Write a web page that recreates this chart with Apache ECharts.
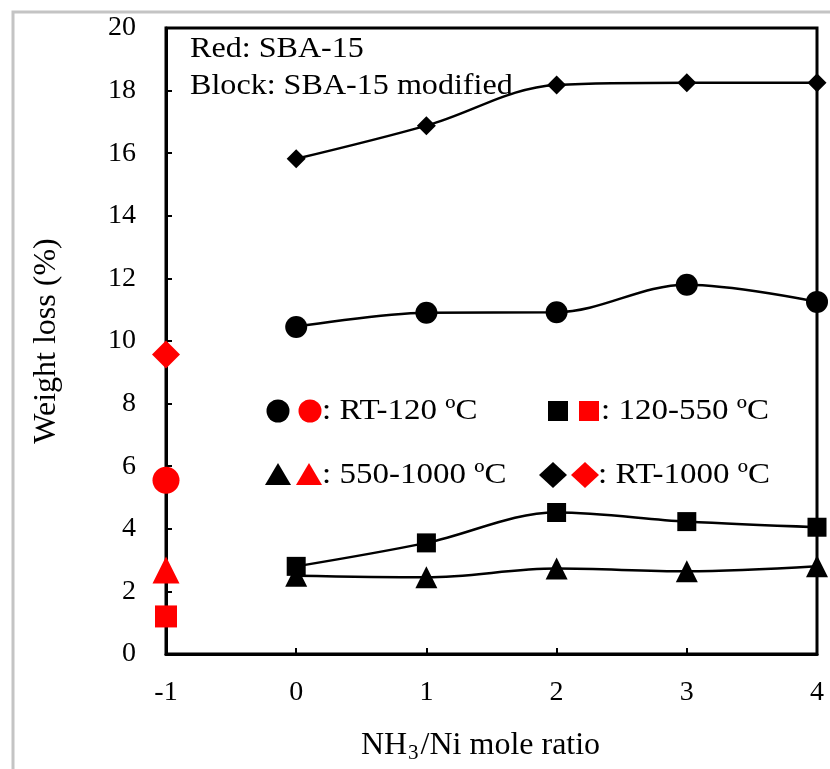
<!DOCTYPE html>
<html><head><meta charset="utf-8">
<script src="https://cdn.jsdelivr.net/npm/echarts@6/dist/echarts.min.js"></script>
<style>html,body{margin:0;padding:0;background:#fff}#c{width:830px;height:769px}</style>
</head><body><div id="c"></div>
<script>
// ---- data ----
const ratios = [0, 1, 2, 3, 4];
const rt120 = [10.45, 10.9, 10.92, 11.8, 11.25];
const t120_550 = [2.8, 3.55, 4.52, 4.23, 4.05];
const t550_1000 = [2.5, 2.45, 2.73, 2.64, 2.8];
const rt1000 = [15.82, 16.88, 18.18, 18.25, 18.25];
const sbaX = -1;
const sbaRt120 = 5.55, sbaT120_550 = 1.2, sbaT550_1000 = 2.68, sbaRt1000 = 9.57;
const legendLabels = [': RT-120 ºC', ': 120-550 ºC', ': 550-1000 ºC', ': RT-1000 ºC'];
const noteLines = ['Red: SBA-15', 'Block: SBA-15 modified'];

const font = '"Liberation Serif", "Times New Roman", serif';
const pair = (xs, ys) => xs.map((x, i) => [x, ys[i]]);

function lineSeries(name, ys, symbol, size) {
  return { name, type: 'line', data: pair(ratios, ys), smooth: 0.35, symbol, symbolSize: size,
    lineStyle: { color: '#000', width: 2.5 }, itemStyle: { color: '#000' }, z: 3 };
}
function redSeries(name, y, symbol, size) {
  return { name, type: 'scatter', data: [[sbaX, y]], symbol, symbolSize: size,
    itemStyle: { color: '#ff0000', opacity: 1 }, z: 4 };
}

const chart = echarts.init(document.getElementById('c'));
const legendItems = [];
const rows = [[278, 310, 322, 411, 'circle'], [558, 589, 601, 411, 'rect'],
              [278, 309, 322, 475, 'triangle'], [553, 585, 598, 475, 'diamond']];
function shape(kind, cx, cy, color) {
  if (kind === 'circle') return { type: 'circle', shape: { cx, cy, r: 11.5 }, style: { fill: color } };
  if (kind === 'rect') return { type: 'rect', shape: { x: cx - 10, y: cy - 10, width: 20, height: 20 }, style: { fill: color } };
  if (kind === 'triangle') return { type: 'polygon', shape: { points: [[cx, cy - 12], [cx + 13, cy + 10], [cx - 13, cy + 10]] }, style: { fill: color } };
  return { type: 'polygon', shape: { points: [[cx, cy - 13], [cx + 14, cy], [cx, cy + 13], [cx - 14, cy]] }, style: { fill: color } };
}
rows.forEach((r, i) => {
  legendItems.push(shape(r[4], r[0], r[3], '#000'));
  legendItems.push(shape(r[4], r[1], r[3], '#ff0000'));
  legendItems.push({ type: 'text', x: r[2], y: r[3], scaleX: 1.1, style: { text: legendLabels[i], font: '30px ' + font, fill: '#000', verticalAlign: 'middle' } });
});
noteLines.forEach((t, i) => {
  legendItems.push({ type: 'text', x: 190, y: 49 + i * 37, scaleX: 1.07, style: { text: t, font: '30px ' + font, fill: '#000', verticalAlign: 'middle' } });
});
legendItems.push({ type: 'rect', shape: { x: 13, y: 12, width: 830, height: 800 }, style: { fill: 'none', stroke: '#c4c4c4', lineWidth: 3 }, z: -10 });

chart.setOption({
  animation: false,
  backgroundColor: '#fff',
  grid: { left: 166, right: 13, top: 28, bottom: 114, show: true, borderColor: '#000', borderWidth: 3 },
  xAxis: {
    type: 'value', min: -1, max: 4, interval: 1,
    name: 'NH{sub|3}/Ni mole ratio', nameLocation: 'middle', nameGap: 74,
    nameTextStyle: { fontFamily: font, fontSize: 32, color: '#000', padding: [0, 22, 0, 0],
      rich: { sub: { fontFamily: font, fontSize: 21, color: '#000', verticalAlign: 'bottom', padding: [15, 2, 0, 1] } } },
    axisLine: { onZero: false, lineStyle: { color: '#000', width: 3 } },
    axisTick: { inside: true, length: 6, lineStyle: { color: '#000', width: 2 } },
    axisLabel: { fontFamily: font, fontSize: 28, color: '#000', margin: 25 },
    splitLine: { show: false }
  },
  yAxis: {
    type: 'value', min: 0, max: 20, interval: 2,
    name: 'Weight loss (%)', nameLocation: 'middle', nameGap: 103, nameRotate: 90,
    nameTextStyle: { fontFamily: font, fontSize: 32, color: '#000' },
    axisLine: { onZero: false, lineStyle: { color: '#000', width: 3 } },
    axisTick: { inside: true, length: 6, lineStyle: { color: '#000', width: 2 } },
    axisLabel: { fontFamily: font, fontSize: 28, color: '#000', margin: 30 },
    splitLine: { show: false }
  },
  graphic: legendItems,
  series: [
    lineSeries('RT-120 modified', rt120, 'circle', 22),
    lineSeries('120-550 modified', t120_550, 'rect', 19),
    lineSeries('550-1000 modified', t550_1000, 'triangle', 22),
    lineSeries('RT-1000 modified', rt1000, 'diamond', 19),
    redSeries('RT-120 SBA-15', sbaRt120, 'circle', 27),
    redSeries('120-550 SBA-15', sbaT120_550, 'rect', 22),
    redSeries('550-1000 SBA-15', sbaT550_1000, 'triangle', 27),
    redSeries('RT-1000 SBA-15', sbaRt1000, 'diamond', 28)
  ]
});
</script></body></html>
